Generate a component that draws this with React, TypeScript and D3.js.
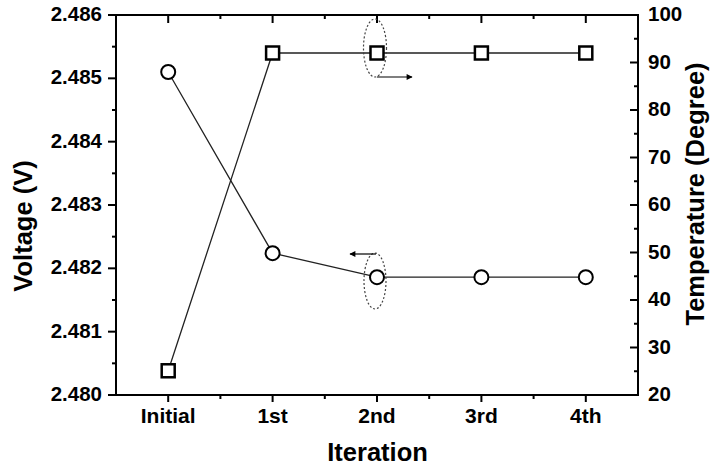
import React from "react";
import * as d3 from "d3";

const iterations = ["Initial", "1st", "2nd", "3rd", "4th"];
const voltage = [2.48510, 2.48224, 2.48186, 2.48186, 2.48186];
const temperature = [25.1, 92.0, 92.0, 92.0, 92.0];
const voltageTicks = [2.480, 2.481, 2.482, 2.483, 2.484, 2.485, 2.486];
const temperatureTicks = [20, 30, 40, 50, 60, 70, 80, 90, 100];

const W = 712;
const H = 467;
const L = 116, R = 638, T = 15, B = 395;
const FONT = "'Liberation Sans', Arial, Helvetica, sans-serif";

export default function App() {
  const x = d3.scaleLinear().domain([-0.5, iterations.length - 0.5]).range([L, R]);
  const yV = d3.scaleLinear().domain([2.480, 2.486]).range([B, T]);
  const yT = d3.scaleLinear().domain([20, 100]).range([B, T]);

  const lineV = d3.line<number>().x((_, i) => x(i)).y((d) => yV(d));
  const lineT = d3.line<number>().x((_, i) => x(i)).y((d) => yT(d));

  const minorX = d3.range(0, iterations.length - 1).map((i) => i + 0.5);
  const minorV = voltageTicks.slice(0, -1).map((v) => v + 0.0005);
  const minorT = temperatureTicks.slice(0, -1).map((v) => v + 5);

  const sq = 13;
  return (
    <svg width={W} height={H} style={{ position: "absolute", left: 0, top: 0 }} fontFamily={FONT}>
      <rect width={W} height={H} fill="#fff" />
      {/* frame */}
      <rect x={L} y={T} width={R - L} height={B - T} fill="none" stroke="#000" strokeWidth={2} />

      {/* bottom axis: ticks outward; top axis: ticks inward */}
      {iterations.map((c, i) => (
        <g key={c}>
          <line x1={x(i)} x2={x(i)} y1={B} y2={B + 7} stroke="#000" strokeWidth={2} />
          <line x1={x(i)} x2={x(i)} y1={T} y2={T + 8} stroke="#000" strokeWidth={2} />
          <text x={x(i)} y={423} textAnchor="middle" fontSize={21} fontWeight="bold">{c}</text>
        </g>
      ))}
      {minorX.map((m) => (
        <g key={m}>
          <line x1={x(m)} x2={x(m)} y1={B} y2={B + 4} stroke="#000" strokeWidth={2} />
          <line x1={x(m)} x2={x(m)} y1={T} y2={T + 4} stroke="#000" strokeWidth={2} />
        </g>
      ))}

      {/* left axis: ticks outward */}
      {voltageTicks.map((v) => (
        <g key={v}>
          <line x1={L - 8} x2={L} y1={yV(v)} y2={yV(v)} stroke="#000" strokeWidth={2} />
          <text x={L - 14} y={yV(v) + 6} textAnchor="end" fontSize={20.5} fontWeight="bold">{v.toFixed(3)}</text>
        </g>
      ))}
      {minorV.map((v) => (
        <line key={v} x1={L - 4} x2={L} y1={yV(v)} y2={yV(v)} stroke="#000" strokeWidth={2} />
      ))}

      {/* right axis: ticks inward */}
      {temperatureTicks.map((v) => (
        <g key={v}>
          <line x1={R - 8} x2={R} y1={yT(v)} y2={yT(v)} stroke="#000" strokeWidth={2} />
          <text x={R + 10} y={yT(v) + 6} textAnchor="start" fontSize={20.5} fontWeight="bold">{v}</text>
        </g>
      ))}
      {minorT.map((v) => (
        <line key={v} x1={R - 4} x2={R} y1={yT(v)} y2={yT(v)} stroke="#000" strokeWidth={2} />
      ))}

      {/* axis titles */}
      <text x={377.5} y={461} textAnchor="middle" fontSize={25.5} fontWeight="bold">Iteration</text>
      <text transform="translate(31.5,226) rotate(-90)" textAnchor="middle" fontSize={25.5} fontWeight="bold">Voltage (V)</text>
      <text transform="translate(703.5,194) rotate(-90)" textAnchor="middle" fontSize={25.5} fontWeight="bold">Temperature (Degree)</text>

      {/* series lines */}
      <path d={lineV(voltage) ?? ""} fill="none" stroke="#222" strokeWidth={1.3} />
      <path d={lineT(temperature) ?? ""} fill="none" stroke="#222" strokeWidth={1.3} />

      {/* voltage markers */}
      {voltage.map((v, i) => (
        <circle key={i} cx={x(i)} cy={yV(v)} r={7} fill="#fff" stroke="#000" strokeWidth={2} />
      ))}
      {/* temperature markers */}
      {temperature.map((v, i) => (
        <rect key={i} x={x(i) - sq / 2} y={yT(v) - sq / 2} width={sq} height={sq} fill="#fff" stroke="#000" strokeWidth={2.5} />
      ))}

      {/* annotation ellipses and arrows */}
      <defs>
        <marker id="arrow" viewBox="0 0 10 10" refX="9" refY="5" markerWidth="9" markerHeight="6" orient="auto" markerUnits="userSpaceOnUse">
          <path d="M0,0 L10,5 L0,10 z" fill="#000" />
        </marker>
      </defs>
      <ellipse cx={x(2) - 2} cy={48} rx={11.5} ry={29} fill="none" stroke="#444" strokeWidth={1.2} strokeDasharray="2,2" />
      <line x1={x(2)} y1={77} x2={412} y2={77} stroke="#000" strokeWidth={1.2} markerEnd="url(#arrow)" />
      <ellipse cx={x(2) - 2} cy={281} rx={11} ry={28} fill="none" stroke="#444" strokeWidth={1.2} strokeDasharray="2,2" />
      <line x1={x(2) - 1} y1={254} x2={350} y2={254} stroke="#000" strokeWidth={1.2} markerEnd="url(#arrow)" />
    </svg>
  );
}
